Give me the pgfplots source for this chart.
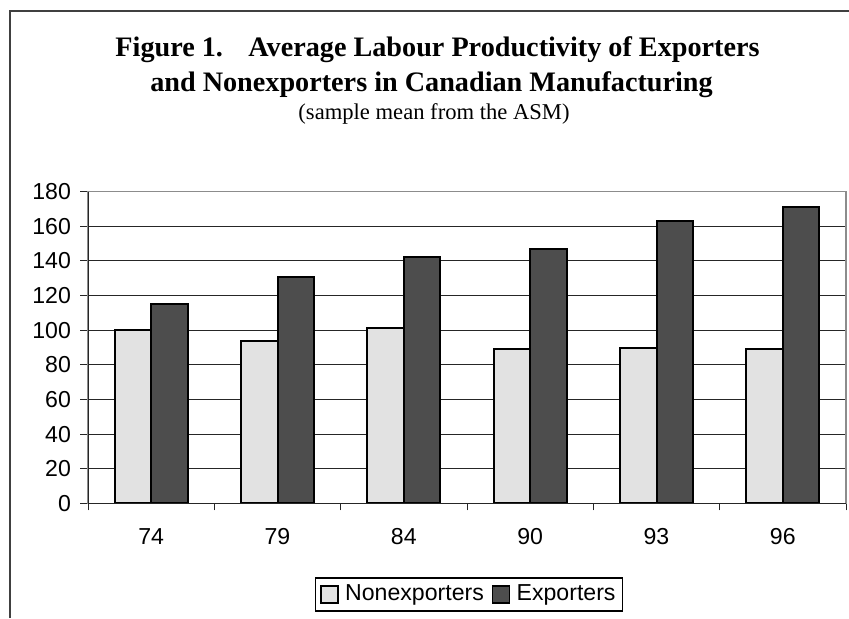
\documentclass[border=0pt]{standalone}
\usepackage{fontspec}
\setmainfont{Liberation Serif}
\newfontfamily\arial{Liberation Sans}
\usepackage{pgfplots}
\pgfplotsset{compat=1.18}
\definecolor{lightbar}{HTML}{E2E2E2}
\definecolor{darkbar}{HTML}{4D4D4D}
\definecolor{framegray}{HTML}{404040}
\begin{document}
\begin{tikzpicture}
\path[use as bounding box] (0pt,0pt) rectangle (424.5pt,309pt);
\draw[framegray, line width=1pt] (5pt,0pt) -- (5pt,303.5pt) -- (424.5pt,303.5pt);
\node[anchor=base, font=\fontsize{14.1}{16}\selectfont\bfseries] at (218.75pt,281pt) {Figure 1.\hspace{0.9em}Average Labour Productivity of Exporters};
\node[anchor=base, font=\fontsize{14.1}{16}\selectfont\bfseries] at (215.75pt,263.15pt) {and Nonexporters in Canadian Manufacturing};
\node[anchor=base, font=\fontsize{11.3}{13}\selectfont] at (217pt,249.5pt) {(sample mean from the ASM)};
\begin{axis}[
  at={(44pt,57.35pt)}, anchor=south west,
  scale only axis, width=379pt, height=155.8pt,
  xmin=-0.5, xmax=5.5, ymin=0, ymax=180,
  ytick={0,20,...,180},
  xtick={0,1,2,3,4,5},
  xticklabels={74,79,84,90,93,96},
  minor xtick={-0.5,0.5,1.5,2.5,3.5,4.5,5.5},
  xtick pos=bottom, ytick pos=left,
  tick align=outside,
  major x tick style={draw=none},
  minor x tick style={black!85, line width=0.5pt},
  minor tick length=3.5pt,
  major tick length=4pt,
  y tick style={black!85, line width=0.5pt},
  ymajorgrids,
  major grid style={black!85, line width=0.5pt},
  axis line style={black!45, line width=0.6pt},
  /pgf/number format/assume math mode=true,
  tick label style={font=\arial\fontsize{11.55}{13}\selectfont},
  yticklabel style={xshift=-1pt},
  xticklabel style={yshift=-5pt},
  ybar=0pt, bar width=0.29,
  legend columns=2,
  legend style={at={(0.5026,-0.2927)}, anchor=center, draw=black, line width=0.6pt,
    font=\arial\fontsize{11.55}{13}\selectfont, inner xsep=2.5pt, inner ysep=1.5pt,
    nodes={inner xsep=1pt},
    /tikz/every even column/.append style={column sep=3pt}},
  legend image code/.code={\draw[#1, line width=0.8pt] (0pt,-4.25pt) rectangle (8.5pt,4.25pt);\path (10.5pt,0pt);},
]
\addplot[fill=lightbar, draw=black, line width=1pt] coordinates {(0,100) (1,94) (2,101) (3,89) (4,90) (5,89)};
\addplot[fill=darkbar, draw=black, line width=1pt] coordinates {(0,115) (1,131) (2,142) (3,147) (4,163) (5,171)};
\legend{Nonexporters,Exporters}
\draw[black!85, line width=0.6pt] (rel axis cs:0,1) -- (rel axis cs:0,0) -- (rel axis cs:1,0);
\end{axis}
\end{tikzpicture}
\end{document}
